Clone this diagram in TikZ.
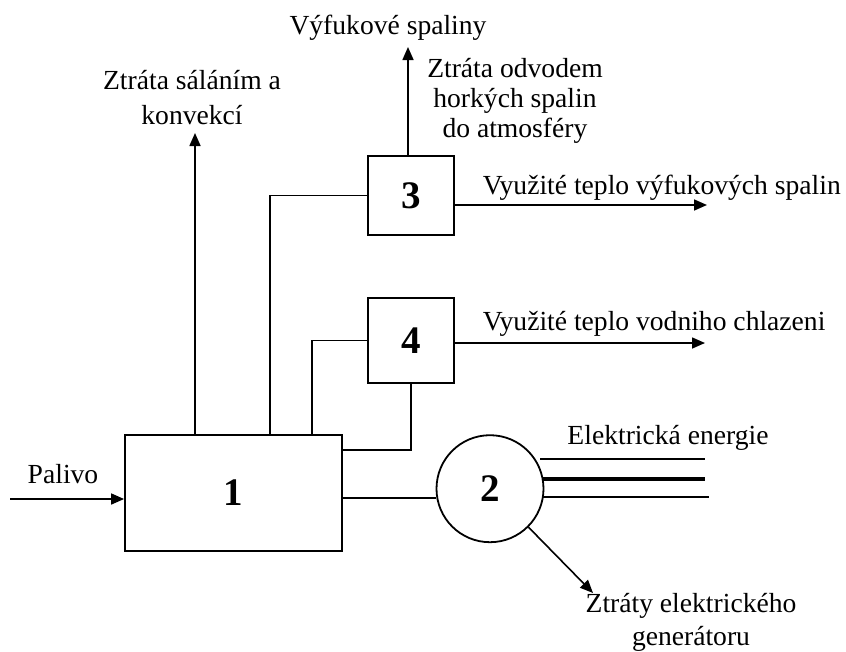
\documentclass[tikz,border=0pt]{standalone}
\usepackage{fontspec}
\setmainfont{Liberation Serif}
\usetikzlibrary{arrows.meta}
\begin{document}
\begin{tikzpicture}[x=1pt,y=-1pt,
  line width=1.6pt,
  lbl/.style={inner sep=0pt, font=\fontsize{27.6}{31}\selectfont, align=center},
  blk/.style={draw, line width=1.8pt, inner sep=0pt},
  num/.style={font=\fontsize{39}{39}\selectfont\bfseries},
  arr/.style={-{Triangle[length=13pt,width=11pt]}}]
\useasboundingbox (0,0) rectangle (846,651);
% blocks
\node[blk, minimum width=217pt, minimum height=116pt] (b1) at (233.5,493) {};
\node[num] at (b1.center) {1};
\node[blk, minimum width=86pt, minimum height=79pt] (b3) at (411,195.5) {};
\node[num] at (b3.center) {3};
\node[blk, minimum width=86pt, minimum height=85pt] (b4) at (411,340.5) {};
\node[num] at (b4.center) {4};
\node[blk, circle, minimum size=107pt] (b2) at (490,488.7) {};
\node[num] at (b2.center) {2};
% free ends and tap points
\coordinate (pin) at (10,499);
\coordinate (sal) at (195,133);
\coordinate (vyf) at (408,47);
\coordinate (e3) at (707,205);
\coordinate (e4) at (705,343);
\coordinate (eg) at (593,593);
\coordinate (u3) at (270,435);
\coordinate (u4) at (312,435);
\coordinate (r4) at (342,450);
\coordinate (c2) at (b2.190);
\coordinate (w1a) at (540,459);
\coordinate (w1b) at (705,459);
\coordinate (w2a) at (543,479);
\coordinate (w2b) at (705,479);
\coordinate (w3a) at (542,497);
\coordinate (w3b) at (709,497);
% labels
\node[lbl] (tpal) at (63,474) {Palivo};
\node[lbl, font=\fontsize{27.6}{35}\selectfont] (tsal) at (192,98) {Ztráta sáláním a\\konvekcí};
\node[lbl] (tvyf) at (388,28) {Výfukové spaliny};
\node[lbl, font=\fontsize{27.6}{30}\selectfont] (todv) at (515,101) {Ztráta odvodem\\horkých spalin\\do atmosféry};
\node[lbl, anchor=west] (t3) at (482,188) {Využité teplo výfukových spalin};
\node[lbl, anchor=west] (t4) at (482,324) {Využité teplo vodniho chlazeni};
\node[lbl] (tel) at (668,438) {Elektrická energie};
\node[lbl, font=\fontsize{27.6}{33}\selectfont] (tgen) at (691,622) {Ztráty elektrického\\generátoru};
% connectors
\draw[arr] (pin) -- (pin -| b1.west);
\draw[arr] (sal |- b1.north) -- (sal);
\draw (u3) |- (b3.west);
\draw (u4) |- (b4.west);
\draw (r4) -| (b4.south);
\draw (b1.east |- c2) -- (c2);
\draw[arr] (b3.north -| vyf) -- (vyf);
\draw[arr] (b3.east |- e3) -- (e3);
\draw[arr] (b4.east |- e4) -- (e4);
\draw (w1a) -- (w1b);
\draw[line width=3.2pt] (w2a) -- (w2b);
\draw (w3a) -- (w3b);
\draw[arr] (b2.-45) -- (eg);
\end{tikzpicture}
\end{document}
